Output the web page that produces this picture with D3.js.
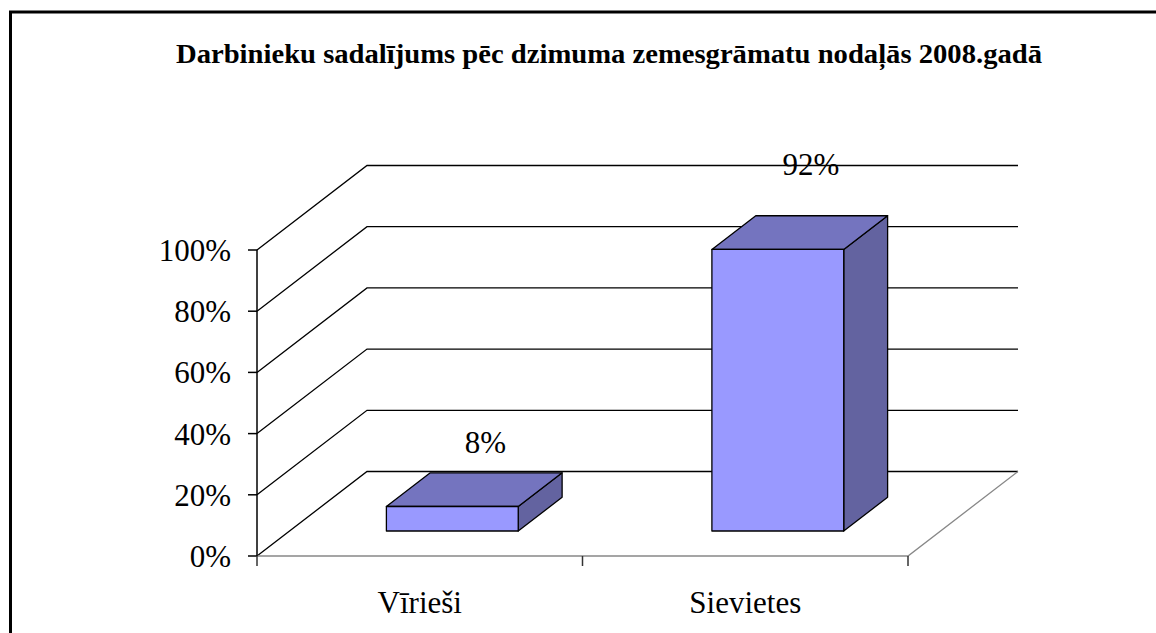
<!DOCTYPE html>
<html>
<head>
<meta charset="utf-8">
<script src="https://cdn.jsdelivr.net/npm/d3@7"></script>
<style>
  body { margin: 0; background: #fff; }
</style>
</head>
<body>
<svg id="chart" width="1156" height="633"></svg>
<script>
const title = 'Darbinieku sadalījums pēc dzimuma zemesgrāmatu nodaļās 2008.gadā';
const categories = ['Vīrieši', 'Sievietes'];
const values = [8, 92];
const yTicks = [0, 20, 40, 60, 80, 100];

const FONT = "'Liberation Serif', 'Times New Roman', Times, 'DejaVu Serif', serif";

const svg = d3.select('#chart').attr('font-family', FONT);

// chart frame (only top and left edges show)
svg.append('line')
  .attr('x1', 9).attr('x2', 1156).attr('y1', 12).attr('y2', 12)
  .attr('stroke', '#000').attr('stroke-width', 3);
svg.append('line')
  .attr('x1', 10.5).attr('x2', 10.5).attr('y1', 11).attr('y2', 633)
  .attr('stroke', '#000').attr('stroke-width', 3);

svg.append('text')
  .attr('x', 609)
  .attr('y', 63)
  .attr('text-anchor', 'middle')
  .attr('font-family', FONT)
  .attr('font-weight', 'bold')
  .attr('font-size', 27)
  .attr('textLength', 866)
  .attr('lengthAdjust', 'spacingAndGlyphs')
  .text(title);

const x = d3.scaleBand().domain(categories).range([257, 908]);
const y = d3.scaleLinear().domain([0, 100]).range([556, 250]);

// depth projection: 0 = front plane, 1 = back wall
const depthX = 110;
const depthY = -84.5;
function px(xv, f) { return xv + depthX * f; }
function py(yv, f) { return yv + depthY * f; }

const grid = svg.append('g').attr('fill', 'none');

// side wall diagonals + back wall gridlines
yTicks.forEach(function (t) {
  grid.append('polyline')
    .attr('points', [
      [257, y(t)],
      [px(257, 1), py(y(t), 1)],
      [px(908, 1), py(y(t), 1)]
    ].join(' '))
    .attr('stroke', '#000')
    .attr('stroke-width', 1.3);
});

// floor edges
grid.append('polyline')
  .attr('points', [
    [257, y(0)],
    [908, y(0)],
    [px(908, 1), py(y(0), 1)]
  ].join(' '))
  .attr('stroke', '#888')
  .attr('stroke-width', 1.3);

// y axis
svg.append('line')
  .attr('x1', 257).attr('x2', 257)
  .attr('y1', y(0)).attr('y2', y(100))
  .attr('stroke', '#000').attr('stroke-width', 1.5);

svg.append('g')
  .selectAll('line')
  .data(yTicks)
  .enter()
  .append('line')
  .attr('x1', 248).attr('x2', 257)
  .attr('y1', function (d) { return y(d); })
  .attr('y2', function (d) { return y(d); })
  .attr('stroke', '#000').attr('stroke-width', 1.5);

svg.append('g')
  .selectAll('text')
  .data(yTicks)
  .enter()
  .append('text')
  .attr('font-family', FONT)
  .attr('x', 231)
  .attr('y', function (d) { return y(d) + 11; })
  .attr('text-anchor', 'end')
  .attr('font-size', 31)
  .text(function (d) { return d + '%'; });

// x axis ticks at band edges
const xEdges = categories.map(function (c) { return x(c); }).concat([x.range()[1]]);
svg.append('g')
  .selectAll('line')
  .data(xEdges)
  .enter()
  .append('line')
  .attr('x1', function (d) { return d; })
  .attr('x2', function (d) { return d; })
  .attr('y1', y(0)).attr('y2', y(0) + 10)
  .attr('stroke', '#333').attr('stroke-width', 1.5);

svg.append('g')
  .selectAll('text')
  .data(categories)
  .enter()
  .append('text')
  .attr('font-family', FONT)
  .attr('x', function (d) { return x(d) + x.bandwidth() / 2; })
  .attr('y', 613)
  .attr('text-anchor', 'middle')
  .attr('font-size', 31)
  .text(function (d) { return d; });

// 3d bars
const barW = x.bandwidth() * 0.405;
const f0 = 0.296;
const f1 = 0.695;

const bars = svg.append('g')
  .selectAll('g')
  .data(categories.map(function (c, i) { return { cat: c, value: values[i] }; }))
  .enter()
  .append('g')
  .attr('stroke', '#000')
  .attr('stroke-width', 1.3)
  .attr('stroke-linejoin', 'round');

function geom(d) {
  const xl = x(d.cat) + (x.bandwidth() - barW) / 2;
  const xr = xl + barW;
  return {
    xl: px(xl, f0), xr: px(xr, f0),
    bxl: px(xl, f1), bxr: px(xr, f1),
    yb: py(y(0), f0), yt: py(y(d.value), f0),
    byb: py(y(0), f1), byt: py(y(d.value), f1)
  };
}

bars.append('polygon')
  .attr('fill', '#6363a0')
  .attr('points', function (d) {
    const g = geom(d);
    return [[g.xr, g.yb], [g.xr, g.yt], [g.bxr, g.byt], [g.bxr, g.byb]].join(' ');
  });

bars.append('polygon')
  .attr('fill', '#7474bf')
  .attr('points', function (d) {
    const g = geom(d);
    return [[g.xl, g.yt], [g.bxl, g.byt], [g.bxr, g.byt], [g.xr, g.yt]].join(' ');
  });

bars.append('rect')
  .attr('fill', '#9999ff')
  .attr('x', function (d) { return geom(d).xl; })
  .attr('y', function (d) { return geom(d).yt; })
  .attr('width', barW)
  .attr('height', function (d) { return geom(d).yb - geom(d).yt; });

// value labels above the bars
bars.append('text')
  .attr('stroke', 'none')
  .attr('fill', '#000')
  .attr('font-family', FONT)
  .attr('font-size', 31)
  .attr('text-anchor', 'middle')
  .attr('x', function (d) { return geom(d).xl + barW / 2 + 33; })
  .attr('y', function (d) {
    const g = geom(d);
    return g.byt - 18 - 0.08 * (g.yb - g.yt);
  })
  .text(function (d) { return d.value + '%'; });
</script>
</body>
</html>
